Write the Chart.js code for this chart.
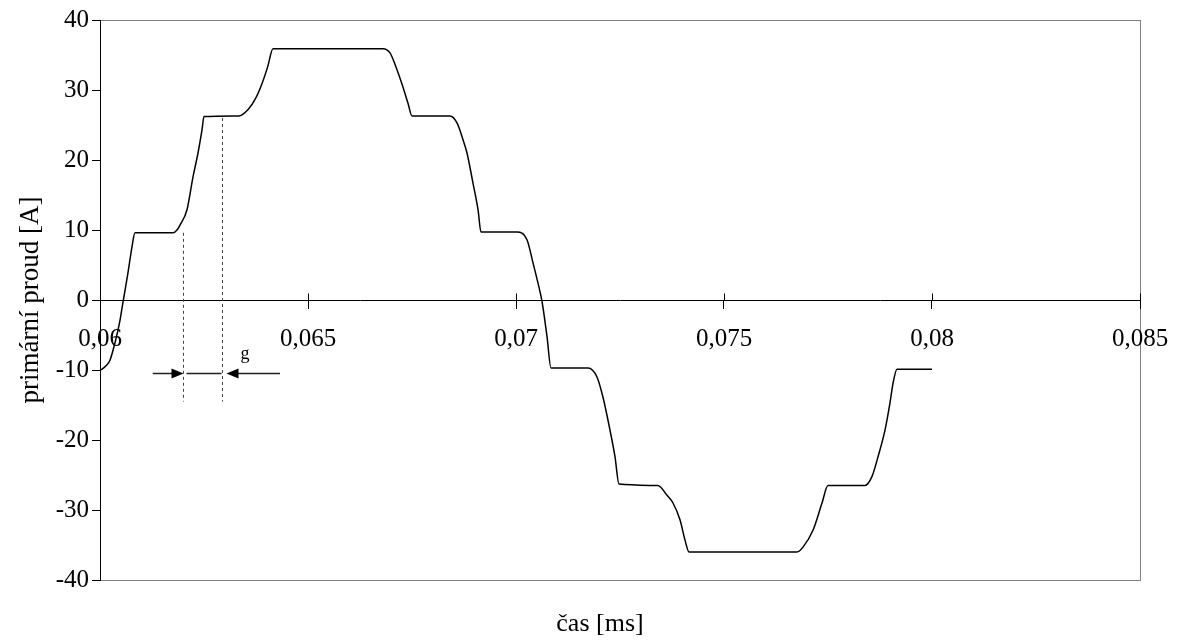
<!DOCTYPE html>
<html>
<head>
<meta charset="utf-8">
<script src="https://cdn.jsdelivr.net/npm/chart.js@4/dist/chart.umd.min.js"></script>
<style>
  html, body { margin: 0; padding: 0; background: #fff; }
  #wrap { width: 1180px; height: 644px; }
</style>
</head>
<body>
<div id="wrap"><canvas id="c" width="1180" height="644"></canvas></div>
<script>
// time [s, labelled ms] and primary current [A]
const casMs = [
  0.060000, 0.060041, 0.060144, 0.060240, 0.060361, 0.060481, 0.060553, 0.060673, 0.060769, 0.060841,
  0.061755, 0.061851, 0.061923, 0.062091, 0.062236, 0.062356, 0.062452, 0.062500,
  0.063340, 0.063560, 0.063750, 0.063900, 0.064030, 0.064159,
  0.066803, 0.066971, 0.067139, 0.067284, 0.067404, 0.067500,
  0.068413, 0.068582, 0.068726, 0.068822, 0.068966, 0.069087, 0.069159,
  0.070024, 0.070264, 0.070409, 0.070529, 0.070625, 0.070745, 0.070841,
  0.071731, 0.071947, 0.072091, 0.072260, 0.072380, 0.072476,
  0.073413, 0.073630, 0.073774, 0.073942, 0.074063, 0.074159,
  0.076755, 0.076899, 0.077139, 0.077356, 0.077500,
  0.078389, 0.078558, 0.078702, 0.078870, 0.078990, 0.079063, 0.079159,
  0.080000
];
const proudA = [
  -10.0, -9.9, -9.4, -8.6, -6.1, -2.9, -0.3, 3.9, 7.6, 9.6,
  9.6, 10.0, 10.7, 12.9, 17.6, 21.0, 24.3, 26.2,
  26.3, 27.2, 28.9, 31.0, 33.3, 35.9,
  35.9, 35.3, 32.9, 30.4, 28.1, 26.3,
  26.3, 25.3, 22.9, 21.0, 16.7, 12.9, 9.7,
  9.7, 8.6, 5.3, 2.4, -0.2, -5.2, -9.7,
  -9.7, -11.0, -13.9, -18.6, -22.4, -26.3,
  -26.5, -27.9, -29.0, -31.4, -34.3, -36.0,
  -36.0, -35.3, -32.9, -29.0, -26.5,
  -26.5, -25.2, -22.4, -18.6, -14.7, -11.9, -9.9,
  -9.9
];

const xTicks = [0.06, 0.065, 0.07, 0.075, 0.08, 0.085];
const xTickLabels = ['0,06', '0,065', '0,07', '0,075', '0,08', '0,085'];
const yTicks = [-40, -30, -20, -10, 0, 10, 20, 30, 40];

// the "g" gap marker
const gapStart = 0.062;
const gapEnd = 0.06293;
const gapTop1 = 9.6, gapTop2 = 26.0, gapBottom = -14.5;
const arrowY = -10.4;
const arrowTailL = 0.061267, arrowTailR = 0.064327;

const FONT = "'Liberation Serif', 'Times New Roman', serif";
Chart.defaults.font.family = FONT;
Chart.defaults.color = '#000';

const points = casMs.map((t, i) => ({ x: t, y: proudA[i] }));

const frame = {
  id: 'frame',
  beforeDraw(chart) {
    const { ctx, chartArea: a } = chart;
    ctx.save();
    ctx.fillStyle = '#fff';
    ctx.fillRect(0, 0, chart.width, chart.height);
    ctx.strokeStyle = '#808080';
    ctx.lineWidth = 1;
    ctx.strokeRect(a.left + 0.5, a.top + 0.5, a.right - a.left, a.bottom - a.top);
    ctx.restore();
  },
  afterDraw(chart) {
    const { ctx } = chart;
    const xs = chart.scales.x, ys = chart.scales.y;
    const y0 = Math.round(ys.getPixelForValue(0)) + 0.5;
    ctx.save();
    // upper half of crossing x ticks
    ctx.strokeStyle = '#000';
    ctx.lineWidth = 1;
    ctx.beginPath();
    xTicks.forEach(v => {
      const px = Math.round(xs.getPixelForValue(v)) + 0.5;
      ctx.moveTo(px, y0 - 7);
      ctx.lineTo(px, y0);
    });
    ctx.stroke();

    // dashed guides
    ctx.strokeStyle = '#444';
    ctx.setLineDash([3, 3]);
    ctx.beginPath();
    const g1 = Math.round(xs.getPixelForValue(gapStart)) + 0.5;
    const g2 = Math.round(xs.getPixelForValue(gapEnd)) + 0.5;
    ctx.moveTo(g1, ys.getPixelForValue(gapTop1));
    ctx.lineTo(g1, ys.getPixelForValue(gapBottom));
    ctx.moveTo(g2, ys.getPixelForValue(gapTop2));
    ctx.lineTo(g2, ys.getPixelForValue(gapBottom));
    ctx.stroke();
    ctx.setLineDash([]);

    // arrows
    const ay = Math.round(ys.getPixelForValue(arrowY)) + 0.5;
    const tl = xs.getPixelForValue(arrowTailL), tr = xs.getPixelForValue(arrowTailR);
    ctx.strokeStyle = '#222';
    ctx.lineWidth = 1.3;
    ctx.beginPath();
    ctx.moveTo(tl, ay); ctx.lineTo(g1 - 10, ay);
    ctx.moveTo(g1 + 3, ay); ctx.lineTo(g2 - 1, ay);
    ctx.moveTo(g2 + 14, ay); ctx.lineTo(tr, ay);
    ctx.stroke();
    ctx.fillStyle = '#000';
    ctx.beginPath();
    ctx.moveTo(g1, ay); ctx.lineTo(g1 - 12, ay - 5); ctx.lineTo(g1 - 12, ay + 5); ctx.closePath();
    ctx.fill();
    ctx.beginPath();
    ctx.moveTo(g2 + 4, ay); ctx.lineTo(g2 + 16, ay - 5); ctx.lineTo(g2 + 16, ay + 5); ctx.closePath();
    ctx.fill();

    ctx.font = '18px ' + FONT;
    ctx.textAlign = 'center';
    ctx.textBaseline = 'alphabetic';
    ctx.fillText('g', 245, ay - 15);

    // axis titles
    ctx.font = '26px ' + FONT;
    ctx.textBaseline = 'middle';
    ctx.fillText('čas [ms]', 600, 624);
    ctx.translate(31, 300);
    ctx.rotate(-Math.PI / 2);
    ctx.font = '27px ' + FONT;
    ctx.fillText('primární proud [A]', 0, 0);
    ctx.restore();
  }
};

new Chart(document.getElementById('c'), {
  type: 'line',
  data: {
    datasets: [{
      label: 'primární proud',
      data: points,
      borderColor: '#000',
      borderWidth: 1.5,
      pointRadius: 0,
      fill: false,
      cubicInterpolationMode: 'monotone'
    }]
  },
  options: {
    responsive: false,
    animation: false,
    layout: { padding: { left: 0, top: 20, right: 40, bottom: 64 } },
    plugins: { legend: { display: false }, tooltip: { enabled: false } },
    scales: {
      x: {
        type: 'linear',
        position: { y: 0 },
        min: 0.06,
        max: 0.085,
        afterBuildTicks(scale) { scale.ticks = xTicks.map(v => ({ value: v })); },
        afterFit(scale) { scale.paddingLeft = 0; scale.paddingRight = 0; },
        ticks: {
          font: { size: 25 },
          color: '#000',
          padding: 16,
          maxRotation: 0,
          autoSkip: false,
          callback(v) { return xTickLabels[xTicks.indexOf(v)]; }
        },
        grid: { drawOnChartArea: false, drawTicks: true, tickLength: 8, color: '#000' },
        border: { color: '#000', width: 1 }
      },
      y: {
        min: -40,
        max: 40,
        afterBuildTicks(scale) { scale.ticks = yTicks.map(v => ({ value: v })); },
        afterFit(scale) { scale.width = 100; },
        ticks: { font: { size: 25 }, color: '#000', padding: 3 },
        grid: { drawOnChartArea: false, drawTicks: true, tickLength: 8, color: '#000' },
        border: { color: '#000', width: 1 }
      }
    }
  },
  plugins: [frame]
});
</script>
</body>
</html>
